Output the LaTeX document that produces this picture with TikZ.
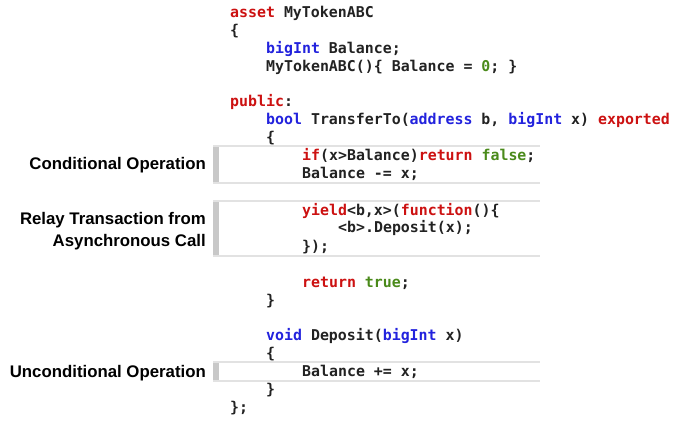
\documentclass[tikz,border=0pt]{standalone}
\usepackage{fontspec}
\setmainfont{Liberation Sans}
\newfontfamily\codefont{DejaVu Sans Mono}
\definecolor{kw}{HTML}{CC1111}
\definecolor{ty}{HTML}{2222DD}
\definecolor{gr}{HTML}{4A8A1A}
\definecolor{tx}{HTML}{222222}
\definecolor{bar}{HTML}{C8C8C8}
\definecolor{rule}{HTML}{E2E2E2}
\newcommand{\K}[1]{\textcolor{kw}{#1}}
\newcommand{\T}[1]{\textcolor{ty}{#1}}
\newcommand{\G}[1]{\textcolor{gr}{#1}}
\begin{document}
\begin{tikzpicture}[x=1pt,y=-1pt,
  code/.style={anchor=base west,inner sep=0pt,text=tx,font=\codefont\bfseries\fontsize{14.9}{18}\selectfont},
  lab/.style={anchor=base east,inner sep=0pt,text=black,font=\bfseries\fontsize{16.8}{20}\selectfont},
  barst/.style={fill=bar,draw=none},
  rl/.style={draw=rule,line width=1.2pt}]
\useasboundingbox (0,0) rectangle (677,422);
% boxes
\fill[barst] (213,146) rectangle (219,183);
\draw[rl] (213,146) -- (540,146) (213,183) -- (540,183);
\fill[barst] (213,201) rectangle (219,256);
\draw[rl] (213,201) -- (540,201) (213,256) -- (540,256);
\fill[barst] (213,362) rectangle (219,381);
\draw[rl] (213,362) -- (540,362) (213,381) -- (540,381);
% code
\node[code] (l0) at (230,18) {\K{asset} MyTokenABC};
\node[code] (l1) at (230,36) {\{};
\node[code] (l2) at (266,54) {\T{bigInt} Balance;};
\node[code] (l3) at (266,71.5) {MyTokenABC()\{ Balance = \G{0}; \}};
\node[code] (l5) at (230,107) {\K{public}:};
\node[code] (l6) at (266,125) {\T{bool} TransferTo(\T{address} b, \T{bigInt} x) \K{exported}};
\node[code] (l7) at (266,143) {\{};
\node[code] (l8) at (302,161) {\K{if}(x>Balance)\K{return} \G{false};};
\node[code] (l9) at (302,179) {Balance -= x;};
\node[code] (l11) at (302,215.5) {\K{yield}<b,x>(\K{function}()\{};
\node[code] (l12) at (338,233) {<b>.Deposit(x);};
\node[code] (l13) at (302,251) {\});};
\node[code] (l15) at (302,287) {\K{return} \G{true};};
\node[code] (l16) at (266,305) {\}};
\node[code] (l18) at (266,340.5) {\T{void} Deposit(\T{bigInt} x)};
\node[code] (l19) at (266,358.5) {\{};
\node[code] (l20) at (302,376.5) {Balance += x;};
\node[code] (l21) at (266,394.5) {\}};
\node[code] (l22) at (230,412) {\};};
% labels
\node[lab] (a) at (206,170) {Conditional Operation};
\node[lab] (b1) at (206,224) {Relay Transaction from};
\node[lab] (b2) at (206,246) {Asynchronous Call};
\node[lab] (c) at (206,377) {Unconditional Operation};
\end{tikzpicture}
\end{document}
